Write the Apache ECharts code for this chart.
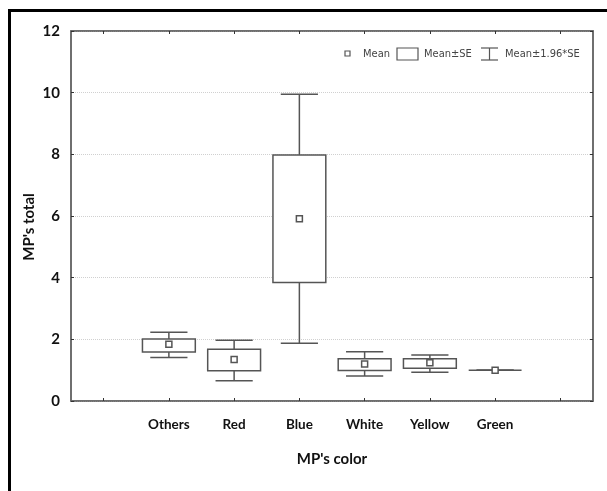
<!DOCTYPE html>
<html>
<head>
<meta charset="utf-8">
<script src="https://cdn.jsdelivr.net/npm/echarts@6/dist/echarts.min.js"></script>
<style>
  html, body { margin: 0; padding: 0; background: #fff; }
  #chart { width: 607px; height: 491px; }
</style>
</head>
<body>
<div id="chart"></div>
<script>
// categories on the x axis
const categories = ['Others', 'Red', 'Blue', 'White', 'Yellow', 'Green'];
// mean, mean±SE and mean±1.96*SE
const means     = [1.84, 1.35, 5.91, 1.20, 1.24, 1.00];
const seLow     = [1.59, 0.98, 3.84, 0.99, 1.06, 1.00];
const seHigh    = [2.01, 1.68, 7.98, 1.37, 1.37, 1.00];
const ciLow     = [1.41, 0.66, 1.87, 0.81, 0.93, 1.00];
const ciHigh    = [2.23, 1.97, 9.95, 1.60, 1.49, 1.00];
const yTicks    = [0, 2, 4, 6, 8, 10, 12];
const xTicks    = [-1, 0, 1, 2, 3, 4, 5, 6];

const LINE = '#555';
const FONT = 'Lato, "Noto Sans", sans-serif';
const NARROW = '"Liberation Sans Narrow", "DejaVu Sans Condensed", sans-serif';

const boxData = categories.map((c, i) => [i, ciLow[i], seLow[i], means[i], seHigh[i], ciHigh[i]]);

// box + whiskers + mean square
function renderBox(params, api) {
  const x = api.value(0);
  const pLo = api.coord([x, api.value(1)]);
  const pBoxLo = api.coord([x, api.value(2)]);
  const pMean = api.coord([x, api.value(3)]);
  const pBoxHi = api.coord([x, api.value(4)]);
  const pHi = api.coord([x, api.value(5)]);
  const unit = api.size([1, 0])[0];
  const boxW = unit * 0.81;
  const capW = unit * 0.57;
  const cx = pMean[0];
  const st = { stroke: LINE, lineWidth: 1.5, fill: null };
  return {
    type: 'group',
    children: [
      { type: 'line', shape: { x1: cx, y1: pHi[1], x2: cx, y2: pBoxHi[1] }, style: st },
      { type: 'line', shape: { x1: cx, y1: pLo[1], x2: cx, y2: pBoxLo[1] }, style: st },
      { type: 'line', shape: { x1: cx - capW / 2, y1: pHi[1], x2: cx + capW / 2, y2: pHi[1] }, style: st },
      { type: 'line', shape: { x1: cx - capW / 2, y1: pLo[1], x2: cx + capW / 2, y2: pLo[1] }, style: st },
      { type: 'rect', shape: { x: cx - boxW / 2, y: pBoxHi[1], width: boxW, height: pBoxLo[1] - pBoxHi[1] },
        style: { stroke: LINE, lineWidth: 1.5, fill: '#fff' } },
      { type: 'rect', shape: { x: cx - 3, y: pMean[1] - 3, width: 6, height: 6 },
        style: { stroke: LINE, lineWidth: 1.5, fill: '#fff' } }
    ]
  };
}

const chart = echarts.init(document.getElementById('chart'));

const axisLine = { show: true, onZero: false, lineStyle: { color: '#666', width: 1.5 } };

const option = {
  backgroundColor: '#fff',
  animation: false,
  grid: { left: 71, right: 14, top: 31, bottom: 90, show: true, borderColor: '#666', borderWidth: 1.5, backgroundColor: 'transparent' },
  graphic: [
    // outer frame (left + top)
    { type: 'line', shape: { x1: 9.5, y1: 10, x2: 9.5, y2: 491 }, style: { stroke: '#000', lineWidth: 3 } },
    { type: 'line', shape: { x1: 8, y1: 10.5, x2: 607, y2: 10.5 }, style: { stroke: '#000', lineWidth: 3 } },
    // legend
    { type: 'rect', shape: { x: 345, y: 51, width: 5, height: 5 }, style: { stroke: LINE, lineWidth: 1.2, fill: '#fff' } },
    { type: 'text', x: 363, y: 54, style: { text: 'Mean', font: '11px ' + NARROW, fill: '#444', verticalAlign: 'middle' } },
    { type: 'rect', shape: { x: 397, y: 48, width: 21, height: 12 }, style: { stroke: LINE, lineWidth: 1.2, fill: '#fff' } },
    { type: 'text', x: 424, y: 54, style: { text: 'Mean±SE', font: '11px ' + NARROW, fill: '#444', verticalAlign: 'middle' } },
    { type: 'polyline', shape: { points: [[481, 48], [498, 48]] }, style: { stroke: LINE, lineWidth: 1.2 } },
    { type: 'polyline', shape: { points: [[481, 60], [498, 60]] }, style: { stroke: LINE, lineWidth: 1.2 } },
    { type: 'polyline', shape: { points: [[489.5, 48], [489.5, 60]] }, style: { stroke: LINE, lineWidth: 1.2 } },
    { type: 'text', x: 505, y: 54, style: { text: 'Mean±1.96*SE', font: '11px ' + NARROW, fill: '#444', verticalAlign: 'middle' } }
  ],
  xAxis: [
    {
      type: 'value',
      min: -1.5,
      max: 6.5,
      position: 'bottom',
      name: "MP's color",
      nameLocation: 'middle',
      nameGap: 51,
      nameTextStyle: { fontFamily: FONT, fontWeight: 'bold', fontSize: 15, color: '#111' },
      axisLine: axisLine,
      axisTick: { show: true, inside: true, length: 3, customValues: xTicks, lineStyle: { color: '#333' } },
      axisLabel: {
        margin: 17,
        fontFamily: FONT, fontWeight: 'bold', fontSize: 13.5, color: '#111',
        customValues: categories.map((c, i) => i),
        formatter: v => categories[Math.round(v)] || ''
      },
      splitLine: { show: false }
    },
    {
      type: 'value',
      min: -1.5,
      max: 6.5,
      position: 'top',
      axisLine: axisLine,
      axisTick: { show: true, inside: true, length: 3, customValues: xTicks, lineStyle: { color: '#333' } },
      axisLabel: { show: false },
      splitLine: { show: false }
    }
  ],
  yAxis: [
    {
      type: 'value',
      min: yTicks[0],
      max: yTicks[yTicks.length - 1],
      interval: 2,
      position: 'left',
      name: "MP's total",
      nameLocation: 'middle',
      nameGap: 34,
      nameMoveOverlap: false,
      nameTextStyle: { fontFamily: FONT, fontWeight: 'bold', fontSize: 15, color: '#111', padding: [0, 22, 0, 0] },
      axisLine: axisLine,
      axisTick: { show: true, inside: true, length: 3, lineStyle: { color: '#333' } },
      axisLabel: { margin: 11, fontFamily: FONT, fontWeight: 'bold', fontSize: 15, color: '#111' },
      splitLine: { show: true, lineStyle: { color: '#d0d0d0', type: 'dotted', width: 1 } }
    },
    {
      type: 'value',
      min: yTicks[0],
      max: yTicks[yTicks.length - 1],
      interval: 2,
      position: 'right',
      axisLine: axisLine,
      axisTick: { show: true, inside: true, length: 3, lineStyle: { color: '#333' } },
      axisLabel: { show: false },
      splitLine: { show: false }
    }
  ],
  series: [
    {
      type: 'custom',
      name: 'Mean±SE',
      renderItem: renderBox,
      encode: { x: 0, y: [1, 2, 3, 4, 5] },
      data: boxData,
      z: 5
    }
  ]
};

chart.setOption(option);
</script>
</body>
</html>
